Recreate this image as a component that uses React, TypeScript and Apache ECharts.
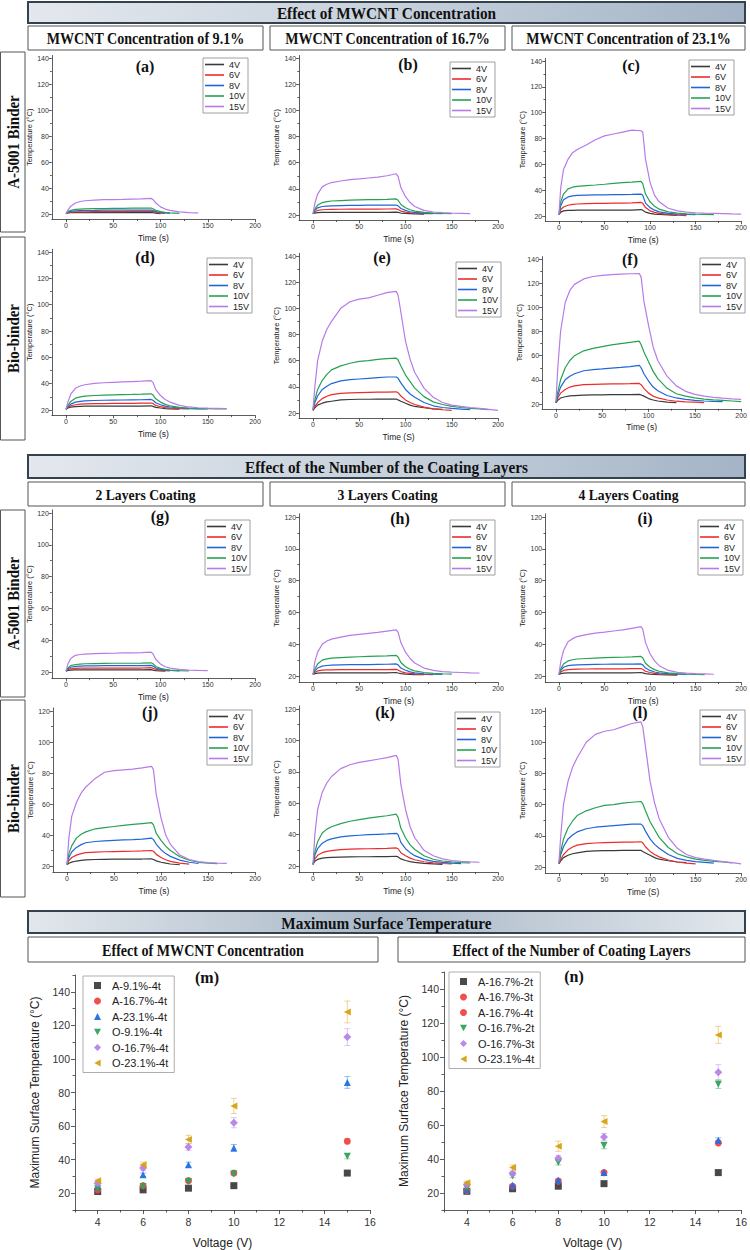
import React, { useEffect, useRef } from "react";
import * as echarts from "echarts";

// ---------- shared sampling grid (s) ----------
const TIME = [0, 2, 5, 10, 15, 20, 30, 40, 50, 60, 70, 80, 90, 92, 95, 100, 105, 110, 120, 130, 140, 150, 160, 170, 180, 190, 200];
const VOLTS = ["4V", "6V", "8V", "10V", "15V"];

// (a) A-5001, 9.1 %
const a4V = [20.3, 20.8, 21, 21, 21, 21, 21, 21, 21, 21, 21, 21, 21.2, 21, 20.6, 20.3];
const a6V = [20.3, 21, 21.5, 21.6, 21.6, 21.7, 21.8, 21.8, 21.9, 21.9, 22, 22, 22, 21.8, 21.2, 20.7, 20.4];
const a8V = [20.3, 21.3, 22, 22.5, 22.6, 22.7, 22.8, 23, 23, 23, 23, 23, 23, 22.6, 21.8, 21.2, 20.8, 20.5];
const a10V = [20.3, 21.8, 22.8, 23.5, 23.8, 24, 24.1, 24.2, 24.3, 24.4, 24.5, 24.5, 24.6, 24, 22.8, 21.8, 21.2, 20.9, 20.5];
const a15V = [20.3, 23, 26, 28.5, 29.6, 30.2, 30.7, 31, 31.1, 31.2, 31.4, 31.6, 32, 31.2, 28.5, 25.5, 23.8, 22.8, 21.6, 21.1, 20.8];
// (b) A-5001, 16.7 %
const b4V = [21, 21.5, 21.8, 22, 22, 22, 22, 22, 22, 22, 22, 22, 22.2, 22, 21.5, 21.2, 21, 20.8, 20.7];
const b6V = [21, 22.5, 23.5, 24, 24.2, 24.3, 24.4, 24.5, 24.5, 24.5, 24.5, 24.6, 24.7, 24.2, 23, 22.2, 21.7, 21.4, 21.1, 21];
const b8V = [21, 23.5, 25.5, 26.5, 26.8, 27, 27.2, 27.3, 27.4, 27.5, 27.5, 27.5, 27.6, 27, 25, 23.5, 22.5, 22, 21.5, 21.2, 21];
const b10V = [21, 24.5, 27.5, 29.5, 30.2, 30.7, 31, 31.3, 31.5, 31.7, 31.8, 32, 32.3, 31.3, 28, 25.5, 24, 23, 22, 21.5, 21.2, 21];
const b15V = [21, 29, 36, 41.5, 43.5, 44.8, 46, 47, 47.6, 48.3, 49, 50, 51.5, 49.5, 41, 34, 29.5, 26.5, 23.5, 22.3, 21.8, 21.5, 21.3, 21.1];
// (c) A-5001, 23.1 %
const c4V = [21, 23, 24, 24.3, 24.4, 24.5, 24.5, 24.5, 24.5, 24.5, 24.5, 24.6, 25, 24.5, 23, 22, 21.5, 21.2, 20.8, 20.5];
const c6V = [21, 25, 27, 28.3, 29, 29.3, 29.6, 29.7, 29.8, 30, 30, 30.2, 30.5, 29.8, 26.5, 24, 22.8, 22, 21.2, 20.7, 20.3];
const c8V = [21, 28, 32.5, 34.8, 35.6, 36, 36.2, 36.3, 36.4, 36.5, 36.5, 36.7, 37, 36, 30, 26.5, 24.5, 23.2, 22, 21.5, 21.2, 21];
const c10V = [21, 31, 37, 41, 42.3, 43, 43.5, 44, 44.6, 45.3, 45.8, 46.2, 46.8, 45, 37, 31, 27.5, 25.3, 23.2, 22.2, 21.7, 21.4, 21.2, 21];
const c15V = [21, 42, 56, 64, 69, 71.5, 75, 79, 82, 83.5, 85, 86.5, 86, 85, 64, 46, 36, 31, 26, 24, 23, 22.5, 22.2, 22, 21.8, 21.6, 21.5];
// (d) Bio-binder, 9.1 %
const d4V = [20.5, 21.5, 22.2, 22.6, 22.8, 22.9, 23, 23, 23, 23, 23, 23, 23.2, 22.8, 22, 21.5, 21.1, 20.8, 20.6];
const d6V = [20.5, 22, 23.2, 24, 24.4, 24.6, 24.8, 24.9, 25, 25, 25.1, 25.2, 25.3, 25, 23.5, 22.5, 21.8, 21.4, 21, 20.8];
const d8V = [20.5, 22.5, 24.5, 26, 26.6, 26.9, 27.2, 27.4, 27.5, 27.6, 27.7, 27.8, 28, 27.4, 25.5, 24, 23, 22.3, 21.5, 21.1, 20.9, 20.8];
const d10V = [20.5, 23.5, 26.5, 29, 30, 30.5, 31, 31.3, 31.5, 31.7, 31.8, 32, 32.3, 31.5, 28.5, 26, 24.3, 23.2, 22, 21.4, 21.1, 21, 20.9, 20.8];
const d15V = [20.5, 26, 32, 36.5, 38.2, 39.2, 40.2, 40.7, 41, 41.3, 41.6, 41.9, 42.3, 41, 35.5, 31, 28, 26, 23.5, 22.3, 21.7, 21.4, 21.2, 21];
// (e) Bio-binder, 16.7 %
const e4V = [22, 24, 26, 27.5, 28.5, 29, 30, 30.3, 30.5, 30.5, 30.6, 30.6, 30.7, 30, 29, 27.5, 26, 25, 24, 23.2, 22.8];
const e6V = [22, 25, 28, 31, 32.8, 34, 35, 35.4, 35.6, 35.8, 35.9, 36, 36.2, 35.5, 33, 30, 28, 26.5, 24.5, 23.2, 22.5, 22];
const e8V = [22.5, 28, 33, 38, 40.5, 42.5, 44.5, 45.5, 46, 46.5, 47, 47.5, 47.5, 46.5, 43, 38, 34.5, 32, 28, 25.5, 24.2, 23.5, 23, 22.5];
const e10V = [22.5, 30, 38, 45, 49.5, 53, 56, 58, 59.5, 60, 61, 61.5, 62, 60.5, 56, 49, 44, 39, 32.5, 28.5, 26.5, 25, 24.2, 23.6, 23.2, 22.6];
const e15V = [23, 40, 60, 75, 84, 90, 100, 105, 107, 108, 110, 112, 113, 110, 97, 75, 61, 51, 39, 32, 28, 26, 25, 24.2, 23.5, 22.8, 22];
// (f) Bio-binder, 23.1 %
const f4V = [21, 23, 25, 26, 26.7, 27, 27.4, 27.5, 27.6, 27.7, 27.8, 27.8, 28, 27.5, 26.5, 24.5, 23.3, 22.5, 21.6, 21.2];
const f6V = [21, 25, 29, 32, 34, 35, 36, 36.3, 36.5, 36.6, 36.7, 36.8, 37, 36, 33, 29, 26.5, 25, 23.3, 22.3, 21.8, 21.5, 21.2];
const f8V = [21, 27, 34, 40, 43, 45, 47.5, 48.5, 49, 49.7, 50.3, 51, 52, 50, 45, 39, 34, 31, 27, 25, 23.8, 23, 22.5, 22.2, 22];
const f10V = [21.5, 30, 40, 50, 56, 60, 64, 66, 67.5, 69, 70, 71, 72, 69, 63, 55, 47, 41, 33, 28.5, 26.5, 25, 24, 23.4, 23, 22.5, 22];
const f15V = [22, 50, 80, 104, 114, 119, 123.5, 125.5, 126.5, 127, 127.5, 127.8, 128, 125, 105, 85, 67, 56, 43, 35, 30.5, 28, 26.5, 25.5, 24.8, 24.2, 23.8];
// (g) A-5001, 2 layers
const g4V = [20.5, 21, 21.2, 21.3, 21.3, 21.3, 21.3, 21.3, 21.3, 21.3, 21.3, 21.3, 21.5, 21.2, 20.9, 20.7, 20.5];
const g6V = [20.5, 21.5, 22, 22.3, 22.4, 22.5, 22.5, 22.5, 22.5, 22.5, 22.5, 22.5, 22.7, 22.3, 21.7, 21.2, 20.9, 20.7];
const g8V = [20.5, 22, 23, 23.5, 23.7, 23.8, 23.9, 24, 24, 24, 24, 24, 24.2, 23.7, 22.5, 21.7, 21.2, 21, 20.7];
const g10V = [20.5, 22.5, 24, 24.7, 25, 25.2, 25.3, 25.4, 25.5, 25.5, 25.5, 25.6, 25.8, 25.2, 23.5, 22.3, 21.6, 21.2, 20.9, 20.7];
const g15V = [20.5, 25, 28.5, 30.5, 31, 31.3, 31.5, 31.7, 31.8, 32, 32, 32.2, 32.5, 31.5, 28, 25, 23.3, 22.4, 21.6, 21.2, 21, 20.9];
// (h) A-5001, 3 layers
const h4V = [21, 21.5, 21.8, 22, 22, 22, 22, 22, 22, 22, 22, 22, 22.2, 21.9, 21.5, 21.2, 21, 20.9, 20.8];
const h6V = [21, 22.3, 23.2, 23.7, 23.8, 23.9, 24, 24, 24, 24, 24, 24, 24.2, 23.8, 22.8, 22, 21.6, 21.3, 21, 20.9];
const h8V = [21, 23.2, 25, 26.2, 26.6, 26.8, 27, 27.1, 27.2, 27.2, 27.3, 27.4, 27.6, 27, 25, 23.6, 22.6, 22, 21.4, 21.1, 21];
const h10V = [21, 24.5, 27.5, 30, 30.8, 31.2, 31.6, 31.9, 32.1, 32.3, 32.5, 32.7, 33, 32, 28.5, 25.8, 24.2, 23.2, 22.2, 21.7, 21.4, 21.2];
const h15V = [21, 29, 35, 40, 42, 43.2, 44.5, 45.5, 46.2, 46.8, 47.4, 48.2, 49, 47.5, 41, 35, 31, 28.2, 25, 23.5, 22.8, 22.4, 22.2, 22, 21.9];
// (i) A-5001, 4 layers
const i4V = [21, 21.5, 21.8, 22, 22, 22, 22, 22, 22, 22, 22, 22, 22.2, 22, 21.5, 21.2, 21, 20.8, 20.7, 20.6];
const i6V = [21, 22.5, 23.5, 24, 24.2, 24.3, 24.4, 24.5, 24.5, 24.5, 24.5, 24.6, 24.7, 24.2, 23, 22.2, 21.7, 21.4, 21.1, 21];
const i8V = [21, 23.5, 25.5, 26.5, 26.8, 27, 27.2, 27.3, 27.4, 27.5, 27.5, 27.5, 27.6, 27, 25, 23.5, 22.5, 22, 21.5, 21.2, 21];
const i10V = [21, 24.5, 27.5, 29.5, 30.2, 30.7, 31, 31.3, 31.5, 31.7, 31.8, 32, 32.3, 31.3, 28, 25.5, 24, 23, 22, 21.5, 21.2, 21, 20.9];
const i15V = [21, 29, 36, 41.5, 43.5, 44.8, 46, 47, 47.6, 48.3, 49, 50, 51, 49.5, 41, 34, 29.5, 26.5, 23.5, 22.3, 21.8, 21.5, 21.3, 21.1];
// (j) Bio-binder, 2 layers
const j4V = [20.8, 21.8, 22.5, 23.2, 23.6, 24, 24.2, 24.3, 24.4, 24.4, 24.5, 24.5, 24.6, 24.2, 23.3, 22.4, 21.8, 21.3, 20.8];
const j6V = [21, 23.5, 25.5, 27, 28, 28.6, 29, 29.2, 29.3, 29.4, 29.5, 29.7, 30, 29.5, 27.5, 25.5, 24, 23, 21.8, 21.2];
const j8V = [21, 25.5, 29, 32, 33.8, 35, 35.8, 36.2, 36.5, 36.8, 37, 37.3, 38, 37, 34, 30.5, 28, 26.2, 23.8, 22.4, 21.6];
const j10V = [21, 28, 33, 38, 40.5, 42, 44, 44.8, 45.5, 46.2, 46.8, 47.4, 48, 46.5, 41, 36.5, 32.8, 30, 26, 23.7, 22.4, 21.8, 21.5];
const j15V = [21, 38, 52, 61, 67, 71, 76.5, 80.5, 81.5, 82, 82.5, 83.3, 84.3, 82, 66, 51, 40, 34, 27, 24.2, 22.8, 22.2, 21.9, 21.7];
// (k) Bio-binder, 3 layers
const k4V = [21, 23, 24.2, 25, 25.3, 25.5, 25.7, 25.8, 25.9, 25.9, 26, 26, 26.2, 25.8, 24.5, 23.5, 22.8, 22.3, 21.7, 21.3, 21];
const k6V = [21, 24.5, 26.8, 28.5, 29.3, 29.8, 30.4, 30.7, 30.9, 31, 31.1, 31.2, 31.5, 31, 28.5, 26.5, 25, 24, 22.7, 22, 21.6, 21.3];
const k8V = [21, 27, 31, 34.5, 36.3, 37.3, 38.5, 39.2, 39.6, 40, 40.2, 40.4, 40.8, 40, 35, 31, 28.5, 26.6, 24.2, 23, 22.3, 21.8, 21.5];
const k10V = [21, 29, 35.5, 41, 43.5, 45, 47, 48.5, 49.5, 50.5, 51.3, 52, 53, 51, 44, 38, 33.5, 30.5, 26.5, 24.3, 23.2, 22.6, 22.2, 22];
const k15V = [21, 40, 56, 67, 73, 77, 82, 84.5, 86, 87, 88, 89, 90.5, 88, 72, 56, 45, 38, 30, 26.5, 24.5, 23.5, 23, 22.6, 22.4];
// (l) Bio-binder, 4 layers
const l4V = [22, 24, 26, 27.5, 28.5, 29, 30, 30.3, 30.5, 30.5, 30.6, 30.6, 30.7, 30, 29, 27.5, 26, 25, 24, 23.2, 22.8];
const l6V = [22, 25, 28, 31, 32.8, 34, 35, 35.4, 35.6, 35.8, 35.9, 36, 36.2, 35.5, 33, 30, 28, 26.5, 24.5, 23.2, 22.5, 22];
const l8V = [22.5, 28, 33, 38, 40.5, 42.5, 44.5, 45.5, 46, 46.5, 47, 47.5, 47.5, 46.5, 43, 38, 34.5, 32, 28, 25.5, 24.2, 23.5, 23, 22.5];
const l10V = [22.5, 30, 38, 45, 49.5, 53, 56, 58, 59.5, 60, 61, 61.5, 62, 60.5, 56, 49, 44, 39, 32.5, 28.5, 26.5, 25, 24.2, 23.6, 23.2, 22.6];
const l15V = [23, 40, 60, 75, 84, 90, 100, 105, 107, 108, 110, 112, 113, 110, 97, 75, 61, 51, 39, 32, 28, 26, 25, 24.2, 23.5, 22.8, 22];

// ---------- maximum surface temperature ----------
const VOLTAGES = [4, 6, 8, 10, 15];
const M_NAMES = ["A-9.1%-4t", "A-16.7%-4t", "A-23.1%-4t", "O-9.1%-4t", "O-16.7%-4t", "O-23.1%-4t"];
const m_A91 = [21, 22, 23, 24.5, 32];
const m_A167 = [22, 24.5, 27.5, 32, 51];
const m_A231 = [24, 31, 37, 47, 86];
const m_O91 = [22.5, 24, 27, 31.5, 42];
const m_O167 = [26, 35, 47.5, 62, 113];
const m_O231 = [27.5, 37, 52, 72, 128];
const m_errA91 = [0.5, 0.5, 0.5, 0.6, 0.8];
const m_errA167 = [0.5, 0.6, 0.8, 1, 1.5];
const m_errA231 = [0.8, 1, 1.5, 2, 3.5];
const m_errO91 = [0.5, 0.5, 0.8, 1, 1.5];
const m_errO167 = [1, 1.5, 2, 3, 5];
const m_errO231 = [1, 1.5, 2.5, 4.5, 6.5];

const N_NAMES = ["A-16.7%-2t", "A-16.7%-3t", "A-16.7%-4t", "O-16.7%-2t", "O-16.7%-3t", "O-23.1%-4t"];
const n_A2 = [21, 22.5, 24, 25.5, 32];
const n_A3 = [21.5, 24, 27, 32, 49.5];
const n_A4 = [22, 24.5, 27.5, 32, 51];
const n_O2 = [23, 30, 38, 48, 84];
const n_O3 = [25, 31.5, 40.5, 53, 91];
const n_O4 = [26, 35, 47.5, 62, 113];
const n_errA2 = [0.5, 0.5, 0.5, 0.8, 1];
const n_errA3 = [0.5, 0.6, 0.8, 1, 1.5];
const n_errA4 = [0.5, 0.6, 0.8, 1, 1.5];
const n_errO2 = [0.8, 1, 1.5, 2, 2.5];
const n_errO3 = [1, 1.2, 1.5, 2, 4.5];
const n_errO4 = [1, 1.5, 3, 3.5, 5];

// tick positions
const LINE_X_MAJOR = [0, 50, 100, 150, 200];
const LINE_X_MINOR = [25, 75, 125, 175];
const SCAT_X_MAJOR = [4, 6, 8, 10, 12, 14, 16];
const SCAT_X_MINOR = [3, 5, 7, 9, 11, 13, 15];
const SCAT_Y_MAJOR = [20, 40, 60, 80, 100, 120, 140];
const SCAT_Y_MINOR = [10, 30, 50, 70, 90, 110, 130, 150];

// ---------- styles / layout ----------
const LINE_COLORS = ["#3a3a3a", "#ee2b2b", "#1f66d9", "#26a152", "#b67be8"];
const SCAT_COLORS = ["#404040", "#f04545", "#1f6fe0", "#2fa35a", "#b882e8", "#d6a10f"];
const TRI_DOWN = "path://M0,0 L10,0 L5,9 Z";
const TRI_LEFT = "path://M9,0 L9,10 L0,5 Z";
const SCAT_SYMBOLS = ["rect", "circle", "triangle", TRI_DOWN, "diamond", TRI_LEFT];
const SERIF = "'Liberation Serif', 'Times New Roman', serif";
const SANS = "'Liberation Sans', Arial, sans-serif";

const LINE_PANELS = [
  { data: [a4V, a6V, a8V, a10V, a15V], label: "(a)", x0: 66, x200: 255, yTop: 58, y20: 214, topVal: 140, xTitle: "Time (s)", lx: 145, ly: 66, gx: 203, gy: 58 },
  { data: [b4V, b6V, b8V, b10V, b15V], label: "(b)", x0: 313, x200: 498, yTop: 58, y20: 215, topVal: 140, xTitle: "Time (s)", lx: 408, ly: 64, gx: 450, gy: 62 },
  { data: [c4V, c6V, c8V, c10V, c15V], label: "(c)", x0: 559, x200: 742, yTop: 61, y20: 216, topVal: 140, xTitle: "Time (s)", lx: 631, ly: 65, gx: 689, gy: 60 },
  { data: [d4V, d6V, d8V, d10V, d15V], label: "(d)", x0: 66, x200: 255, yTop: 252, y20: 410, topVal: 140, xTitle: "Time (s)", lx: 145, ly: 257, gx: 207, gy: 258 },
  { data: [e4V, e6V, e8V, e10V, e15V], label: "(e)", x0: 313, x200: 498, yTop: 256, y20: 413, topVal: 140, xTitle: "Time (S)", lx: 382, ly: 257, gx: 456, gy: 262 },
  { data: [f4V, f6V, f8V, f10V, f15V], label: "(f)", x0: 556, x200: 742, yTop: 259, y20: 404, topVal: 140, xTitle: "Time (s)", lx: 630, ly: 259, gx: 700, gy: 258 },
  { data: [g4V, g6V, g8V, g10V, g15V], label: "(g)", x0: 66, x200: 255, yTop: 513, y20: 672, topVal: 120, xTitle: "Time (s)", lx: 160, ly: 516, gx: 205, gy: 520 },
  { data: [h4V, h6V, h8V, h10V, h15V], label: "(h)", x0: 313, x200: 498, yTop: 517, y20: 676, topVal: 120, xTitle: "Time (s)", lx: 400, ly: 518, gx: 450, gy: 520 },
  { data: [i4V, i6V, i8V, i10V, i15V], label: "(i)", x0: 559, x200: 742, yTop: 517, y20: 676, topVal: 120, xTitle: "Time (s)", lx: 645, ly: 518, gx: 698, gy: 520 },
  { data: [j4V, j6V, j8V, j10V, j15V], label: "(j)", x0: 67, x200: 255, yTop: 711, y20: 866, topVal: 120, xTitle: "Time (s)", lx: 150, ly: 712, gx: 207, gy: 710 },
  { data: [k4V, k6V, k8V, k10V, k15V], label: "(k)", x0: 313, x200: 498, yTop: 709, y20: 866, topVal: 120, xTitle: "Time (s)", lx: 385, ly: 712, gx: 455, gy: 712 },
  { data: [l4V, l6V, l8V, l10V, l15V], label: "(l)", x0: 559, x200: 742, yTop: 711, y20: 867, topVal: 120, xTitle: "Time (S)", lx: 640, ly: 712, gx: 700, gy: 710 },
];

const SCAT_PANELS = [
  { names: M_NAMES, vals: [m_A91, m_A167, m_A231, m_O91, m_O167, m_O231], errs: [m_errA91, m_errA167, m_errA231, m_errO91, m_errO167, m_errO231], label: "(m)", left: 75, top: 975, width: 295, height: 238, lx: 207, ly: 977, gx: 83, gy: 976 },
  { names: N_NAMES, vals: [n_A2, n_A3, n_A4, n_O2, n_O3, n_O4], errs: [n_errA2, n_errA3, n_errA4, n_errO2, n_errO3, n_errO4], label: "(n)", left: 444, top: 972, width: 298, height: 238, lx: 574, ly: 976, gx: 449, gy: 972 },
];

function txt(x: number, y: number, text: string, size: number, sx: number, rotation = 0) {
  return {
    type: "text", x, y, rotation, scaleX: sx,
    style: { text, fontFamily: SERIF, fontWeight: "bold", fontSize: size, fill: "#111", align: "center", verticalAlign: "middle", textAlign: "center", textVerticalAlign: "middle" },
  };
}
function headerBar(x: number, y: number, w: number, h: number, text: string, stops: string[]) {
  return [
    {
      type: "rect", shape: { x, y, width: w, height: h },
      style: {
        fill: { type: "linear", x: 0, y: 0, x2: 1, y2: 0, colorStops: stops.map((c, i) => ({ offset: i / (stops.length - 1), color: c })) },
        stroke: "#34424f", lineWidth: 2,
      },
    },
    txt(x + w / 2, y + h / 2 + 1, text, 17, 0.9),
  ];
}
function subBox(x: number, y: number, w: number, h: number, text: string, size: number) {
  return [
    { type: "rect", shape: { x, y, width: w, height: h }, style: { fill: "#fff", stroke: "#555", lineWidth: 1 } },
    txt(x + w / 2, y + h / 2 + 1, text, size, 0.88),
  ];
}
function rowBox(y: number, h: number, text: string) {
  return [
    { type: "rect", shape: { x: 0.5, y, width: 24.5, height: h }, style: { fill: "#fff", stroke: "#555", lineWidth: 1 } },
    txt(13, y + h / 2, text, 17, 0.88, Math.PI / 2),
  ];
}
function panelLabel(x: number, y: number, text: string) {
  return txt(x, y, text, 16, 1);
}

function minorAxis(kind: "x" | "y", gi: number, min: number, max: number, vals: number[], len: number) {
  return {
    type: "value", gridIndex: gi, min, max, position: kind === "x" ? "bottom" : "left",
    axisLine: { show: false, onZero: false }, splitLine: { show: false },
    axisLabel: { show: false, customValues: vals },
    axisTick: { show: true, length: len, customValues: vals, lineStyle: { color: "#333", width: 0.8 } },
  };
}

function buildOption() {
  const grid: any[] = [], xAxis: any[] = [], yAxis: any[] = [], series: any[] = [], legend: any[] = [];
  let graphic: any[] = [];
  const axisLine = { show: true, onZero: false, lineStyle: { color: "#333", width: 0.8 } };
  const minorX: any[] = [], minorY: any[] = [];

  LINE_PANELS.forEach((p, gi) => {
    const pxS = (p.x200 - p.x0) / 200;
    const pxU = (p.y20 - p.yTop) / (p.topVal - 20);
    const yMin = 16, yMax = p.topVal + 2;
    grid.push({ left: p.x0 - 15 * pxS, top: p.yTop - 2 * pxU, width: 215 * pxS, height: (yMax - yMin) * pxU });
    const yt: number[] = [], ym: number[] = [];
    for (let v = 20; v <= p.topVal; v += 20) yt.push(v);
    for (let v = 30; v < p.topVal; v += 20) ym.push(v);
    xAxis.push({
      type: "value", gridIndex: gi, min: -15, max: 200, position: "bottom",
      name: p.xTitle, nameLocation: "middle", nameGap: 14,
      nameTextStyle: { fontSize: 8.5, fontFamily: SANS, color: "#222" },
      axisLine, axisTick: { show: true, length: 3, customValues: LINE_X_MAJOR, lineStyle: { color: "#333", width: 0.8 } },
      axisLabel: { customValues: LINE_X_MAJOR, fontSize: 7, margin: 3, color: "#333", fontFamily: SANS },
      splitLine: { show: false },
    });
    yAxis.push({
      type: "value", gridIndex: gi, min: yMin, max: yMax, position: "left",
      name: "Temperature (°C)", nameLocation: "middle", nameGap: 17,
      nameTextStyle: { fontSize: 7.5, fontFamily: SANS, color: "#222" },
      axisLine, axisTick: { show: true, length: 3, customValues: yt, lineStyle: { color: "#333", width: 0.8 } },
      axisLabel: { customValues: yt, fontSize: 7, margin: 3, color: "#333", fontFamily: SANS },
      splitLine: { show: false },
    });
    minorX.push(minorAxis("x", gi, -15, 200, LINE_X_MINOR, 1.8));
    minorY.push(minorAxis("y", gi, yMin, yMax, ym, 1.8));
    p.data.forEach((arr, si) => {
      series.push({
        type: "line", name: VOLTS[si], xAxisIndex: gi, yAxisIndex: gi,
        data: arr.map((v, k) => [TIME[k], v]),
        showSymbol: false, symbol: "none", lineStyle: { width: 1.2, color: LINE_COLORS[si] },
        itemStyle: { color: LINE_COLORS[si] }, z: 2 + si,
      });
    });
    legend.push({
      left: p.gx, top: p.gy, orient: "vertical", data: VOLTS, icon: "rect",
      itemWidth: 19, itemHeight: 1.6, itemGap: 1.5,
      textStyle: { fontSize: 9, fontFamily: SANS, color: "#222", lineHeight: 9 },
      borderColor: "#888", borderWidth: 0.8, padding: [2, 3, 2, 2], backgroundColor: "#fff",
      selectedMode: false,
    });
    graphic.push(panelLabel(p.lx, p.ly, p.label));
  });

  SCAT_PANELS.forEach((p, k) => {
    const gi = LINE_PANELS.length + k;
    grid.push({ left: p.left, top: p.top, width: p.width, height: p.height });
    xAxis.push({
      type: "value", gridIndex: gi, min: 3, max: 16, position: "bottom",
      name: "Voltage (V)", nameLocation: "middle", nameGap: 27,
      nameTextStyle: { fontSize: 12, fontFamily: SANS, color: "#222" },
      axisLine, axisTick: { show: true, length: 4, customValues: SCAT_X_MAJOR, lineStyle: { color: "#333", width: 0.8 } },
      axisLabel: { customValues: SCAT_X_MAJOR, fontSize: 10.5, margin: 6, color: "#333", fontFamily: SANS },
      splitLine: { show: false },
    });
    yAxis.push({
      type: "value", gridIndex: gi, min: 10, max: 150, position: "left",
      name: "Maximum Surface Temperature (°C)", nameLocation: "middle", nameGap: 34,
      nameTextStyle: { fontSize: 12, fontFamily: SANS, color: "#222" },
      axisLine, axisTick: { show: true, length: 4, customValues: SCAT_Y_MAJOR, lineStyle: { color: "#333", width: 0.8 } },
      axisLabel: { customValues: SCAT_Y_MAJOR, fontSize: 10.5, margin: 5, color: "#333", fontFamily: SANS },
      splitLine: { show: false },
    });
    minorX.push(minorAxis("x", gi, 3, 16, SCAT_X_MINOR, 2.5));
    minorY.push(minorAxis("y", gi, 10, 150, SCAT_Y_MINOR, 2.5));
    p.names.forEach((name, si) => {
      const color = SCAT_COLORS[si];
      const errData = VOLTAGES.map((v, i) => [v, p.vals[si][i] - p.errs[si][i], p.vals[si][i] + p.errs[si][i]]);
      series.push({
        type: "custom", name: "err-" + k + "-" + si, xAxisIndex: gi, yAxisIndex: gi, data: errData, z: 3,
        renderItem: (_params: any, api: any) => {
          const x = api.value(0), lo = api.value(1), hi = api.value(2);
          const a = api.coord([x, hi]), b = api.coord([x, lo]);
          const w = 3;
          const st = { stroke: color, lineWidth: 1, opacity: 0.45 };
          return {
            type: "group", children: [
              { type: "line", shape: { x1: a[0], y1: a[1], x2: b[0], y2: b[1] }, style: st },
              { type: "line", shape: { x1: a[0] - w, y1: a[1], x2: a[0] + w, y2: a[1] }, style: st },
              { type: "line", shape: { x1: b[0] - w, y1: b[1], x2: b[0] + w, y2: b[1] }, style: st },
            ],
          };
        },
      });
      series.push({
        type: "scatter", name, xAxisIndex: gi, yAxisIndex: gi,
        data: VOLTAGES.map((v, i) => [v, p.vals[si][i]]),
        symbol: SCAT_SYMBOLS[si], symbolSize: si === 4 ? 8 : 7,
        itemStyle: { color, opacity: 0.95 }, z: 4 + si,
      });
    });
    legend.push({
      left: p.gx, top: p.gy, orient: "vertical", data: p.names,
      itemWidth: 7, itemHeight: 7, itemGap: 4.5,
      textStyle: { fontSize: 11, fontFamily: SANS, color: "#222", lineHeight: 10, padding: [0, 0, 0, 6] },
      borderColor: "#999", borderWidth: 0.8, padding: [4, 6, 4, 11], backgroundColor: "#fff",
      selectedMode: false,
    });
    graphic.push(panelLabel(p.lx, p.ly, p.label));
  });

  graphic = graphic.concat(
    headerBar(28, 2, 717, 21, "Effect of MWCNT Concentration", ["#e4e8ee", "#c7d1dc", "#a4b4c6"]),
    subBox(28, 26, 235, 24, "MWCNT Concentration of 9.1%", 16),
    subBox(270, 26, 235, 24, "MWCNT Concentration of 16.7%", 16),
    subBox(512, 26, 233, 24, "MWCNT Concentration of 23.1%", 16),
    rowBox(52, 180, "A-5001 Binder"),
    rowBox(237, 203, "Bio-binder"),
    headerBar(28, 455, 717, 23, "Effect of the Number of the Coating Layers", ["#e4e8ee", "#c7d1dc", "#a4b4c6"]),
    subBox(28, 482, 235, 24, "2 Layers Coating", 15.5),
    subBox(270, 482, 235, 24, "3 Layers Coating", 15.5),
    subBox(512, 482, 233, 24, "4 Layers Coating", 15.5),
    rowBox(510, 187, "A-5001 Binder"),
    rowBox(700, 197, "Bio-binder"),
    headerBar(28, 911, 717, 22, "Maximum Surface Temperature", ["#e2e7ec", "#a8b7c7", "#e2e7ec"]),
    subBox(28, 937, 350, 25, "Effect of MWCNT Concentration", 16),
    subBox(398, 937, 347, 25, "Effect of the Number of Coating Layers", 16),
  );

  return {
    animation: false, backgroundColor: "#fff", grid,
    xAxis: xAxis.concat(minorX), yAxis: yAxis.concat(minorY),
    series, legend, graphic,
  };
}

export default function App() {
  const ref = useRef<HTMLDivElement>(null);
  useEffect(() => {
    if (!ref.current) return;
    const chart = echarts.init(ref.current, undefined, { renderer: "svg" });
    chart.setOption(buildOption() as any);
    return () => chart.dispose();
  }, []);
  return <div ref={ref} style={{ position: "absolute", left: 0, top: 0, width: 750, height: 1250, background: "#fff" }} />;
}
